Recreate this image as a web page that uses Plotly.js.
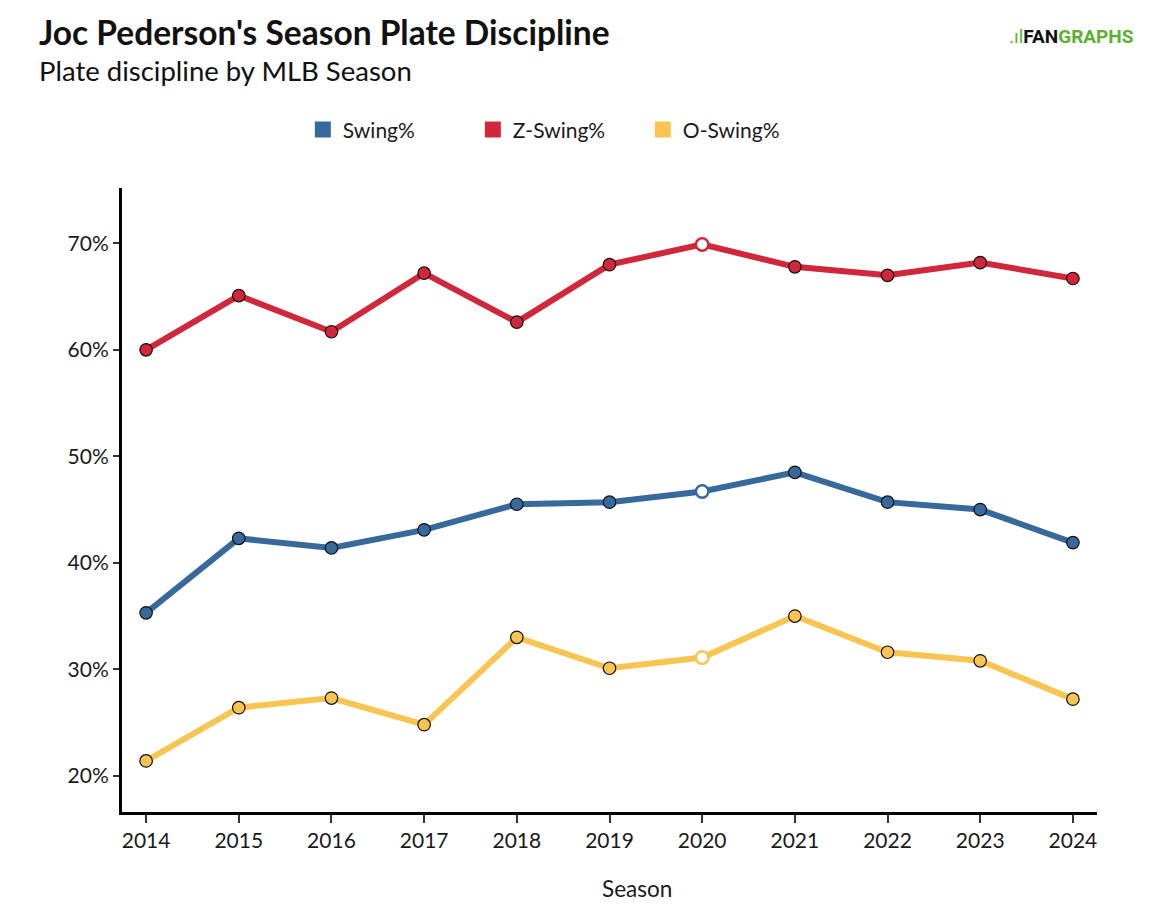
<!DOCTYPE html>
<html>
<head>
<meta charset="utf-8">
<script src="https://cdn.plot.ly/plotly-3.0.1.min.js"></script>
<style>
  body { margin: 0; background: #fff; }
  #chart { width: 1162px; height: 919px; }
</style>
</head>
<body>
<div id="chart"></div>
<script>
// seasons and plate discipline rates (%)
var seasons = [2014, 2015, 2016, 2017, 2018, 2019, 2020, 2021, 2022, 2023, 2024];
var swing = [35.3, 42.3, 41.4, 43.1, 45.5, 45.7, 46.7, 48.5, 45.7, 45.0, 41.9];
var zSwing = [60.0, 65.1, 61.7, 67.2, 62.6, 68.0, 69.9, 67.8, 67.0, 68.2, 66.7];
var oSwing = [21.4, 26.4, 27.3, 24.8, 33.0, 30.1, 31.1, 35.0, 31.6, 30.8, 27.2];
var yTicks = [20, 30, 40, 50, 60, 70];
var shortSeason = 2020;

var BLUE = '#37699b', RED = '#d0273a', YELLOW = '#f8c553';

function seriesTrace(name, vals, color) {
  // the shortened season gets a hollow marker
  var fills = seasons.map(function (s) { return s === shortSeason ? '#ffffff' : color; });
  var lines = seasons.map(function (s) { return s === shortSeason ? color : '#111111'; });
  var widths = seasons.map(function (s) { return s === shortSeason ? 2.5 : 1.2; });
  return {
    type: 'scatter', mode: 'lines+markers', name: name,
    x: seasons, y: vals, showlegend: false,
    line: { color: color, width: 6 },
    marker: { size: 12.5, color: fills, line: { color: lines, width: widths } },
    hovertemplate: '%{x}: %{y:.1f}%<extra>' + name + '</extra>'
  };
}

function legendTrace(name, color) {
  return {
    type: 'scatter', mode: 'markers', name: name,
    x: [null], y: [null],
    marker: { symbol: 'square', size: 16, color: color }
  };
}

var data = [
  seriesTrace('Z-Swing%', zSwing, RED),
  seriesTrace('O-Swing%', oSwing, YELLOW),
  seriesTrace('Swing%', swing, BLUE),
  legendTrace('Swing%', BLUE),
  legendTrace('Z-Swing%', RED),
  legendTrace('O-Swing%', YELLOW)
];

var layout = {
  width: 1162, height: 919,
  margin: { l: 122, r: 65, t: 188, b: 107 },
  paper_bgcolor: '#ffffff', plot_bgcolor: '#ffffff',
  font: { family: 'Lato, "Open Sans", sans-serif', color: '#1a1a1a', size: 21 },
  showlegend: true,
  legend: {
    orientation: 'h', x: 0.447, xanchor: 'center', y: 1.093, yanchor: 'middle',
    font: { size: 21 }, traceorder: 'normal', itemclick: false,
    entrywidth: 125, entrywidthmode: 'pixels'
  },
  xaxis: {
    range: [2013.74, 2024.26], tickvals: seasons, ticktext: seasons.map(String),
    showgrid: false, zeroline: false,
    showline: true, linecolor: '#000', linewidth: 3,
    ticks: 'outside', ticklen: 8, tickwidth: 1.5, tickcolor: '#333'
  },
  yaxis: {
    range: [16.6, 75.2], tickvals: yTicks, ticktext: yTicks.map(function (v) { return v + '%'; }),
    showgrid: false, zeroline: false,
    showline: true, linecolor: '#000', linewidth: 3,
    ticks: 'outside', ticklen: 6, tickwidth: 1.5, tickcolor: '#333'
  },
  annotations: [
    { xref: 'paper', yref: 'paper', x: -0.087, y: 1.25, xanchor: 'left', yanchor: 'middle',
      showarrow: false, text: "<b>Joc Pederson's Season Plate Discipline</b>",
      font: { size: 33.5, color: '#111' } },
    { xref: 'paper', yref: 'paper', x: -0.087, y: 1.188, xanchor: 'left', yanchor: 'middle',
      showarrow: false, text: 'Plate discipline by MLB Season',
      font: { size: 27.5, color: '#111' } },
    { xref: 'paper', yref: 'paper', x: 0.528, y: -0.123, xanchor: 'center', yanchor: 'middle',
      showarrow: false, text: 'Season', font: { size: 22.5 } },
    { xref: 'paper', yref: 'paper', x: 1.04, y: 1.243, xanchor: 'right', yanchor: 'middle',
      showarrow: false,
      text: '<span style="color:#5bb030">.ıl</span><b>FAN</b><b><span style="color:#5bb030">GRAPHS</span></b>',
      font: { size: 19, color: '#111', family: 'Roboto, Arial, sans-serif' } }
  ]
};

Plotly.newPlot('chart', data, layout, { displayModeBar: false });
</script>
</body>
</html>
